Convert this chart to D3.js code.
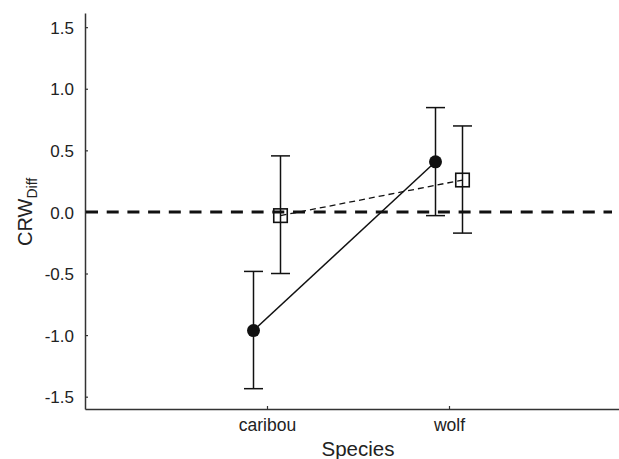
<!DOCTYPE html>
<html>
<head>
<meta charset="utf-8">
<script src="https://cdn.jsdelivr.net/npm/d3@7"></script>
<style>
  body { margin: 0; background: #fff; }
  text { font-family: "Liberation Sans", Arial, sans-serif; fill: #222; }
</style>
</head>
<body>
<div id="chart"></div>
<script>
// data
const species = ["caribou", "wolf"]
// filled circles (solid line)
const circleMean = [-0.963, 0.407]
const circleLow = [-1.435, -0.03]
const circleHigh = [-0.483, 0.847]
// open squares (dashed line)
const squareMean = [-0.03, 0.259]
const squareLow = [-0.50, -0.172]
const squareHigh = [0.455, 0.698]
const yTicks = [-1.5, -1.0, -0.5, 0.0, 0.5, 1.0, 1.5]
const refLine = 0

const width = 619
const height = 459

let dimensions = {
  width: width,
  height: height,
  margin: { top: 13, right: -12, bottom: 50, left: 85 },
}
dimensions.boundedWidth = dimensions.width - dimensions.margin.left - dimensions.margin.right
dimensions.boundedHeight = dimensions.height - dimensions.margin.top - dimensions.margin.bottom

const svg = d3.select("#chart")
  .append("svg")
  .attr("width", dimensions.width)
  .attr("height", dimensions.height)

const graph = svg.append("g")
  .attr("transform", `translate(${dimensions.margin.left}, ${dimensions.margin.top})`)

const xScale = d3.scalePoint()
  .domain(species)
  .range([0, dimensions.boundedWidth])
  .padding(1)

const yScale = d3.scaleLinear()
  .domain([-1.6, 1.615])
  .range([dimensions.boundedHeight, 0])

const offset = 13.5
const circles = species.map((s, i) => ({ x: xScale(s) - offset, m: circleMean[i], lo: circleLow[i], hi: circleHigh[i] }))
const squares = species.map((s, i) => ({ x: xScale(s) + offset, m: squareMean[i], lo: squareLow[i], hi: squareHigh[i] }))

// axes
const fmt = d => d3.format(".1f")(d).replace("−", "-")
const yAxis = d3.axisLeft(yScale).tickValues(yTicks).tickSizeInner(-3).tickSizeOuter(0).tickPadding(11).tickFormat(fmt)
const xAxis = d3.axisBottom(xScale).tickSizeInner(-3).tickSizeOuter(0).tickPadding(10)

const gX = graph.append("g")
  .attr("transform", `translate(0, ${dimensions.boundedHeight})`)
  .call(xAxis)
const gY = graph.append("g").call(yAxis)

;[gX, gY].forEach(g => {
  g.select(".domain").attr("stroke", "#333").attr("stroke-width", 1.5)
  g.selectAll(".tick line").attr("stroke", "#333").attr("stroke-width", 1.2)
  g.selectAll(".tick text")
    .attr("fill", "#222")
    .style("font-family", "'Liberation Sans', Arial, sans-serif")
})
gY.selectAll(".tick text").attr("dy", "0.36em").style("font-size", "17px")
gX.selectAll(".tick text").style("font-size", "17.5px")

// zero reference line
graph.append("line")
  .attr("x1", 1)
  .attr("x2", 527)
  .attr("y1", yScale(refLine))
  .attr("y2", yScale(refLine))
  .attr("stroke", "#111")
  .attr("stroke-width", 3)
  .attr("stroke-dasharray", "12 8.7")

// axis titles
svg.append("text")
  .attr("x", dimensions.margin.left + xScale("caribou") + (xScale("wolf") - xScale("caribou")) / 2)
  .attr("y", 456)
  .attr("text-anchor", "middle")
  .style("font-size", "20.5px")
  .text("Species")

const yLabel = svg.append("text")
  .attr("transform", `translate(32, ${dimensions.margin.top + yScale(0)}) rotate(-90)`)
  .attr("text-anchor", "middle")
  .style("font-size", "20px")
yLabel.append("tspan").text("CRW")
yLabel.append("tspan").attr("dy", 5).style("font-size", "14px").text("Diff")

// connecting lines
const line = d3.line().x(d => d.x).y(d => yScale(d.m))
graph.append("path")
  .attr("d", line(squares))
  .attr("fill", "none")
  .attr("stroke", "#111")
  .attr("stroke-width", 1.3)
  .attr("stroke-dasharray", "6 4")
graph.append("path")
  .attr("d", line(circles))
  .attr("fill", "none")
  .attr("stroke", "#111")
  .attr("stroke-width", 1.5)

// error bars
const cap = 9.5
function errorBars(data) {
  const g = graph.append("g").attr("stroke", "#111").attr("stroke-width", 1.5)
  g.selectAll(".stem").data(data).enter().append("line")
    .attr("x1", d => d.x).attr("x2", d => d.x)
    .attr("y1", d => yScale(d.lo)).attr("y2", d => yScale(d.hi))
  g.selectAll(".capHi").data(data).enter().append("line")
    .attr("x1", d => d.x - cap).attr("x2", d => d.x + cap)
    .attr("y1", d => yScale(d.hi)).attr("y2", d => yScale(d.hi))
  g.selectAll(".capLo").data(data).enter().append("line")
    .attr("x1", d => d.x - cap).attr("x2", d => d.x + cap)
    .attr("y1", d => yScale(d.lo)).attr("y2", d => yScale(d.lo))
}
errorBars(circles)
errorBars(squares)

// markers
graph.selectAll(".dot").data(circles).enter().append("circle")
  .attr("cx", d => d.x)
  .attr("cy", d => yScale(d.m))
  .attr("r", 6.5)
  .attr("fill", "#111")

const sq = 13.5
graph.selectAll(".sq").data(squares).enter().append("rect")
  .attr("x", d => d.x - sq / 2)
  .attr("y", d => yScale(d.m) - sq / 2)
  .attr("width", sq)
  .attr("height", sq)
  .attr("fill", "none")
  .attr("stroke", "#111")
  .attr("stroke-width", 1.6)
</script>
</body>
</html>
